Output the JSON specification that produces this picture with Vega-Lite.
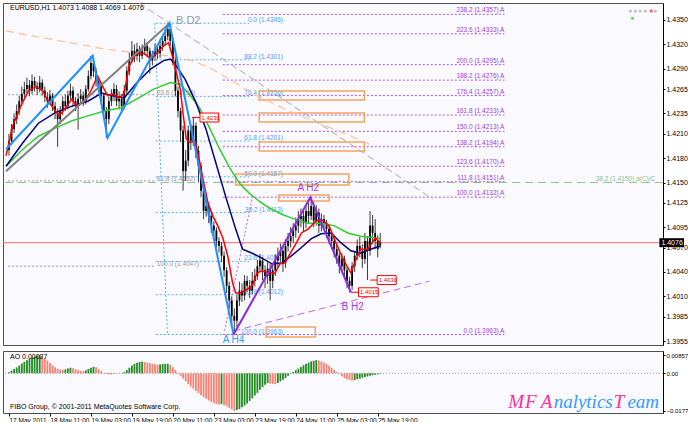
{
"$schema": "https://vega.github.io/schema/vega-lite/v6.json",
"background": "#FFFFFF",
"padding": {"left": 2, "top": 2, "right": 0, "bottom": 0},
"spacing": 4,
"config": {
  "view": {"fill": "#FAFAFE", "stroke": "#505050", "strokeWidth": 1},
  "font": "Liberation Sans",
  "text": {"font": "Liberation Sans"},
  "axis": {"labelOverlap": false, "grid": false, "labelFont": "Liberation Sans", "labelFontSize": 7, "labelColor": "#000000", "tickColor": "#000000", "domainColor": "#000000", "tickSize": 2, "labelPadding": 1, "labelBound": false, "labelFlush": false}
},
"datasets": {
"candles": [
{"i":0,"o":1.4190,"h":1.4210,"l":1.4183,"c":1.4201},
{"i":1,"o":1.4201,"h":1.4222,"l":1.4196,"c":1.4216},
{"i":2,"o":1.4216,"h":1.4235,"l":1.4211,"c":1.4228},
{"i":3,"o":1.4228,"h":1.4246,"l":1.4222,"c":1.4238},
{"i":4,"o":1.4238,"h":1.4257,"l":1.4233,"c":1.4250},
{"i":5,"o":1.4250,"h":1.4268,"l":1.4244,"c":1.4259},
{"i":6,"o":1.4259,"h":1.4274,"l":1.4253,"c":1.4265},
{"i":7,"o":1.4265,"h":1.4279,"l":1.4260,"c":1.4270},
{"i":8,"o":1.4270,"h":1.4276,"l":1.4256,"c":1.4263},
{"i":9,"o":1.4263,"h":1.4283,"l":1.4259,"c":1.4275},
{"i":10,"o":1.4275,"h":1.4280,"l":1.4262,"c":1.4269},
{"i":11,"o":1.4269,"h":1.4274,"l":1.4258,"c":1.4265},
{"i":12,"o":1.4265,"h":1.4281,"l":1.4261,"c":1.4273},
{"i":13,"o":1.4273,"h":1.4277,"l":1.4257,"c":1.4263},
{"i":14,"o":1.4263,"h":1.4268,"l":1.4249,"c":1.4255},
{"i":15,"o":1.4255,"h":1.4261,"l":1.4242,"c":1.4250},
{"i":16,"o":1.4250,"h":1.4264,"l":1.4246,"c":1.4257},
{"i":17,"o":1.4257,"h":1.4260,"l":1.4238,"c":1.4244},
{"i":18,"o":1.4244,"h":1.4249,"l":1.4228,"c":1.4236},
{"i":19,"o":1.4236,"h":1.4241,"l":1.4194,"c":1.4228},
{"i":20,"o":1.4228,"h":1.4244,"l":1.4222,"c":1.4238},
{"i":21,"o":1.4238,"h":1.4256,"l":1.4233,"c":1.4250},
{"i":22,"o":1.4250,"h":1.4258,"l":1.4238,"c":1.4244},
{"i":23,"o":1.4244,"h":1.4263,"l":1.4240,"c":1.4257},
{"i":24,"o":1.4257,"h":1.4272,"l":1.4252,"c":1.4263},
{"i":25,"o":1.4263,"h":1.4268,"l":1.4243,"c":1.4250},
{"i":26,"o":1.4250,"h":1.4255,"l":1.4238,"c":1.4245},
{"i":27,"o":1.4245,"h":1.4260,"l":1.4215,"c":1.4253},
{"i":28,"o":1.4253,"h":1.4265,"l":1.4248,"c":1.4257},
{"i":29,"o":1.4257,"h":1.4262,"l":1.4244,"c":1.4250},
{"i":30,"o":1.4250,"h":1.4270,"l":1.4246,"c":1.4265},
{"i":31,"o":1.4265,"h":1.4288,"l":1.4262,"c":1.4281},
{"i":32,"o":1.4281,"h":1.4306,"l":1.4277,"c":1.4297},
{"i":33,"o":1.4297,"h":1.4302,"l":1.4280,"c":1.4287},
{"i":34,"o":1.4287,"h":1.4291,"l":1.4268,"c":1.4275},
{"i":35,"o":1.4275,"h":1.4280,"l":1.4262,"c":1.4269},
{"i":36,"o":1.4269,"h":1.4273,"l":1.4250,"c":1.4257},
{"i":37,"o":1.4257,"h":1.4260,"l":1.4230,"c":1.4238},
{"i":38,"o":1.4238,"h":1.4243,"l":1.4205,"c":1.4228},
{"i":39,"o":1.4228,"h":1.4256,"l":1.4222,"c":1.4250},
{"i":40,"o":1.4250,"h":1.4265,"l":1.4244,"c":1.4257},
{"i":41,"o":1.4257,"h":1.4272,"l":1.4250,"c":1.4265},
{"i":42,"o":1.4265,"h":1.4270,"l":1.4244,"c":1.4250},
{"i":43,"o":1.4250,"h":1.4262,"l":1.4240,"c":1.4253},
{"i":44,"o":1.4253,"h":1.4258,"l":1.4236,"c":1.4244},
{"i":45,"o":1.4244,"h":1.4270,"l":1.4240,"c":1.4263},
{"i":46,"o":1.4263,"h":1.4293,"l":1.4258,"c":1.4287},
{"i":47,"o":1.4287,"h":1.4310,"l":1.4282,"c":1.4302},
{"i":48,"o":1.4302,"h":1.4324,"l":1.4298,"c":1.4312},
{"i":49,"o":1.4312,"h":1.4320,"l":1.4298,"c":1.4306},
{"i":50,"o":1.4306,"h":1.4322,"l":1.4300,"c":1.4314},
{"i":51,"o":1.4314,"h":1.4318,"l":1.4298,"c":1.4306},
{"i":52,"o":1.4306,"h":1.4320,"l":1.4302,"c":1.4312},
{"i":53,"o":1.4312,"h":1.4327,"l":1.4307,"c":1.4318},
{"i":54,"o":1.4318,"h":1.4323,"l":1.4305,"c":1.4312},
{"i":55,"o":1.4312,"h":1.4316,"l":1.4284,"c":1.4300},
{"i":56,"o":1.4300,"h":1.4312,"l":1.4294,"c":1.4306},
{"i":57,"o":1.4306,"h":1.4321,"l":1.4300,"c":1.4314},
{"i":58,"o":1.4314,"h":1.4320,"l":1.4302,"c":1.4309},
{"i":59,"o":1.4309,"h":1.4326,"l":1.4303,"c":1.4318},
{"i":60,"o":1.4318,"h":1.4332,"l":1.4312,"c":1.4324},
{"i":61,"o":1.4324,"h":1.4338,"l":1.4318,"c":1.4330},
{"i":62,"o":1.4330,"h":1.4346,"l":1.4325,"c":1.4339},
{"i":63,"o":1.4339,"h":1.4343,"l":1.4318,"c":1.4324},
{"i":64,"o":1.4324,"h":1.4328,"l":1.4294,"c":1.4300},
{"i":65,"o":1.4300,"h":1.4304,"l":1.4256,"c":1.4263},
{"i":66,"o":1.4263,"h":1.4268,"l":1.4230,"c":1.4238},
{"i":67,"o":1.4238,"h":1.4242,"l":1.4200,"c":1.4214},
{"i":68,"o":1.4214,"h":1.4220,"l":1.4140,"c":1.4164},
{"i":69,"o":1.4164,"h":1.4190,"l":1.4152,"c":1.4177},
{"i":70,"o":1.4177,"h":1.4220,"l":1.4170,"c":1.4214},
{"i":71,"o":1.4214,"h":1.4222,"l":1.4190,"c":1.4201},
{"i":72,"o":1.4201,"h":1.4230,"l":1.4195,"c":1.4220},
{"i":73,"o":1.4220,"h":1.4224,"l":1.4180,"c":1.4189},
{"i":74,"o":1.4189,"h":1.4195,"l":1.4150,"c":1.4170},
{"i":75,"o":1.4170,"h":1.4175,"l":1.4132,"c":1.4140},
{"i":76,"o":1.4140,"h":1.4145,"l":1.4105,"c":1.4115},
{"i":77,"o":1.4115,"h":1.4133,"l":1.4108,"c":1.4121},
{"i":78,"o":1.4121,"h":1.4126,"l":1.4100,"c":1.4109},
{"i":79,"o":1.4109,"h":1.4113,"l":1.4088,"c":1.4097},
{"i":80,"o":1.4097,"h":1.4102,"l":1.4082,"c":1.4091},
{"i":81,"o":1.4091,"h":1.4095,"l":1.4070,"c":1.4078},
{"i":82,"o":1.4078,"h":1.4083,"l":1.4064,"c":1.4072},
{"i":83,"o":1.4072,"h":1.4077,"l":1.4052,"c":1.4060},
{"i":84,"o":1.4060,"h":1.4065,"l":1.4034,"c":1.4042},
{"i":85,"o":1.4042,"h":1.4046,"l":1.4014,"c":1.4023},
{"i":86,"o":1.4023,"h":1.4028,"l":1.3995,"c":1.4005},
{"i":87,"o":1.4005,"h":1.4010,"l":1.3975,"c":1.3986},
{"i":88,"o":1.3986,"h":1.3995,"l":1.3963,"c":1.3980},
{"i":89,"o":1.3980,"h":1.4012,"l":1.3972,"c":1.4005},
{"i":90,"o":1.4005,"h":1.4028,"l":1.3998,"c":1.4017},
{"i":91,"o":1.4017,"h":1.4026,"l":1.4003,"c":1.4011},
{"i":92,"o":1.4011,"h":1.4036,"l":1.4005,"c":1.4029},
{"i":93,"o":1.4029,"h":1.4035,"l":1.4015,"c":1.4023},
{"i":94,"o":1.4023,"h":1.4030,"l":1.4008,"c":1.4017},
{"i":95,"o":1.4017,"h":1.4040,"l":1.4012,"c":1.4029},
{"i":96,"o":1.4029,"h":1.4044,"l":1.4022,"c":1.4035},
{"i":97,"o":1.4035,"h":1.4055,"l":1.4030,"c":1.4047},
{"i":98,"o":1.4047,"h":1.4062,"l":1.4040,"c":1.4054},
{"i":99,"o":1.4054,"h":1.4058,"l":1.4030,"c":1.4042},
{"i":100,"o":1.4042,"h":1.4048,"l":1.4020,"c":1.4035},
{"i":101,"o":1.4035,"h":1.4052,"l":1.4025,"c":1.4044},
{"i":102,"o":1.4044,"h":1.4050,"l":1.4005,"c":1.4029},
{"i":103,"o":1.4029,"h":1.4050,"l":1.4020,"c":1.4042},
{"i":104,"o":1.4042,"h":1.4062,"l":1.4035,"c":1.4054},
{"i":105,"o":1.4054,"h":1.4070,"l":1.4046,"c":1.4060},
{"i":106,"o":1.4060,"h":1.4075,"l":1.4052,"c":1.4066},
{"i":107,"o":1.4066,"h":1.4072,"l":1.4040,"c":1.4051},
{"i":108,"o":1.4051,"h":1.4080,"l":1.4045,"c":1.4072},
{"i":109,"o":1.4072,"h":1.4088,"l":1.4065,"c":1.4078},
{"i":110,"o":1.4078,"h":1.4095,"l":1.4070,"c":1.4084},
{"i":111,"o":1.4084,"h":1.4100,"l":1.4076,"c":1.4091},
{"i":112,"o":1.4091,"h":1.4107,"l":1.4082,"c":1.4097},
{"i":113,"o":1.4097,"h":1.4115,"l":1.4088,"c":1.4105},
{"i":114,"o":1.4105,"h":1.4118,"l":1.4095,"c":1.4109},
{"i":115,"o":1.4109,"h":1.4116,"l":1.4090,"c":1.4100},
{"i":116,"o":1.4100,"h":1.4122,"l":1.4094,"c":1.4115},
{"i":117,"o":1.4115,"h":1.4125,"l":1.4100,"c":1.4109},
{"i":118,"o":1.4109,"h":1.4132,"l":1.4104,"c":1.4121},
{"i":119,"o":1.4121,"h":1.4126,"l":1.4095,"c":1.4103},
{"i":120,"o":1.4103,"h":1.4122,"l":1.4097,"c":1.4113},
{"i":121,"o":1.4113,"h":1.4118,"l":1.4088,"c":1.4097},
{"i":122,"o":1.4097,"h":1.4112,"l":1.4090,"c":1.4105},
{"i":123,"o":1.4105,"h":1.4110,"l":1.4092,"c":1.4100},
{"i":124,"o":1.4100,"h":1.4104,"l":1.4082,"c":1.4093},
{"i":125,"o":1.4093,"h":1.4097,"l":1.4075,"c":1.4084},
{"i":126,"o":1.4084,"h":1.4090,"l":1.4068,"c":1.4078},
{"i":127,"o":1.4078,"h":1.4082,"l":1.4058,"c":1.4068},
{"i":128,"o":1.4068,"h":1.4073,"l":1.4050,"c":1.4060},
{"i":129,"o":1.4060,"h":1.4064,"l":1.4038,"c":1.4047},
{"i":130,"o":1.4047,"h":1.4063,"l":1.4040,"c":1.4056},
{"i":131,"o":1.4056,"h":1.4060,"l":1.4032,"c":1.4042},
{"i":132,"o":1.4042,"h":1.4046,"l":1.4020,"c":1.4029},
{"i":133,"o":1.4029,"h":1.4034,"l":1.4015,"c":1.4023},
{"i":134,"o":1.4023,"h":1.4052,"l":1.4018,"c":1.4047},
{"i":135,"o":1.4047,"h":1.4066,"l":1.4040,"c":1.4060},
{"i":136,"o":1.4060,"h":1.4080,"l":1.4055,"c":1.4072},
{"i":137,"o":1.4072,"h":1.4083,"l":1.4058,"c":1.4066},
{"i":138,"o":1.4066,"h":1.4074,"l":1.4045,"c":1.4056},
{"i":139,"o":1.4056,"h":1.4088,"l":1.4050,"c":1.4078},
{"i":140,"o":1.4078,"h":1.4084,"l":1.4030,"c":1.4066},
{"i":141,"o":1.4066,"h":1.4115,"l":1.4060,"c":1.4097},
{"i":142,"o":1.4097,"h":1.4110,"l":1.4075,"c":1.4088},
{"i":143,"o":1.4088,"h":1.4105,"l":1.4068,"c":1.4078},
{"i":144,"o":1.4078,"h":1.4085,"l":1.4058,"c":1.4068},
{"i":145,"o":1.4073,"h":1.4088,"l":1.4069,"c":1.4076}
],
"ma_r": [
{"i":-1.15,"p":1.4183},{"i":1.5,"p":1.4220},{"i":4.6,"p":1.4244},{"i":7.7,"p":1.4263},{"i":10.4,"p":1.4268},{"i":13.1,"p":1.4263},{"i":15.4,"p":1.4250},{"i":18.1,"p":1.4238},{"i":19.6,"p":1.4232},{"i":21.9,"p":1.4241},{"i":24.6,"p":1.4253},{"i":26.5,"p":1.4244},{"i":29.6,"p":1.4250},{"i":32.3,"p":1.4265},{"i":34.6,"p":1.4281},{"i":36.5,"p":1.4269},{"i":38.5,"p":1.4257},{"i":40.4,"p":1.4259},{"i":43.1,"p":1.4254},{"i":45,"p":1.4260},{"i":46.9,"p":1.4293},{"i":49.6,"p":1.4308},{"i":52.7,"p":1.4309},{"i":55.4,"p":1.4302},{"i":57.7,"p":1.4309},{"i":60.4,"p":1.4318},{"i":62.3,"p":1.4322},{"i":63.5,"p":1.4309},{"i":65,"p":1.4290},{"i":66.9,"p":1.4265},{"i":68.1,"p":1.4232},{"i":69.2,"p":1.4204},{"i":70.8,"p":1.4199},{"i":72.7,"p":1.4201},{"i":73.8,"p":1.4186},{"i":75.8,"p":1.4154},{"i":77.7,"p":1.4125},{"i":79.6,"p":1.4109},{"i":81.5,"p":1.4097},{"i":83.5,"p":1.4082},{"i":85.4,"p":1.4060},{"i":87.3,"p":1.4027},{"i":88.5,"p":1.4014},{"i":90.4,"p":1.4014},{"i":93.1,"p":1.4019},{"i":95,"p":1.4023},{"i":96.9,"p":1.4039},{"i":98.8,"p":1.4041},{"i":101.5,"p":1.4039},{"i":103.8,"p":1.4038},{"i":105.8,"p":1.4050},{"i":107.7,"p":1.4051},{"i":110.4,"p":1.4066},{"i":112.3,"p":1.4076},{"i":114.2,"p":1.4088},{"i":116.9,"p":1.4093},{"i":120,"p":1.4103},{"i":122.7,"p":1.4103},{"i":125,"p":1.4097},{"i":127.7,"p":1.4076},{"i":129.6,"p":1.4062},{"i":131.5,"p":1.4050},{"i":133.5,"p":1.4039},{"i":135.4,"p":1.4054},{"i":137.3,"p":1.4068},{"i":140,"p":1.4068},{"i":141.9,"p":1.4076},{"i":143.1,"p":1.4082},{"i":145,"p":1.4076}
],
"ma_n": [
{"i":-1.15,"p":1.4170},{"i":5.4,"p":1.4199},{"i":11.5,"p":1.4223},{"i":18.1,"p":1.4236},{"i":24.6,"p":1.4244},{"i":30.8,"p":1.4250},{"i":36.2,"p":1.4260},{"i":40,"p":1.4257},{"i":45,"p":1.4254},{"i":50,"p":1.4273},{"i":55.4,"p":1.4290},{"i":60.4,"p":1.4300},{"i":63.1,"p":1.4302},{"i":65.4,"p":1.4293},{"i":68.8,"p":1.4277},{"i":73.1,"p":1.4248},{"i":76.9,"p":1.4216},{"i":80.8,"p":1.4174},{"i":84.6,"p":1.4133},{"i":88.5,"p":1.4093},{"i":91.2,"p":1.4068},{"i":95,"p":1.4063},{"i":98.8,"p":1.4057},{"i":102.7,"p":1.4050},{"i":106.5,"p":1.4051},{"i":110.4,"p":1.4060},{"i":114.2,"p":1.4070},{"i":118.1,"p":1.4081},{"i":121.9,"p":1.4087},{"i":125.8,"p":1.4088},{"i":129.6,"p":1.4076},{"i":133.5,"p":1.4066},{"i":137.3,"p":1.4063},{"i":141.2,"p":1.4068},{"i":145,"p":1.4072}
],
"ma_g": [
{"i":-1.15,"p":1.4170},{"i":5.4,"p":1.4191},{"i":11.5,"p":1.4207},{"i":18.1,"p":1.4217},{"i":24.6,"p":1.4226},{"i":30.8,"p":1.4232},{"i":37.3,"p":1.4238},{"i":43.8,"p":1.4242},{"i":50,"p":1.4253},{"i":56.5,"p":1.4265},{"i":63.1,"p":1.4273},{"i":66.9,"p":1.4271},{"i":70.8,"p":1.4257},{"i":74.6,"p":1.4241},{"i":78.5,"p":1.4216},{"i":82.3,"p":1.4191},{"i":86.2,"p":1.4168},{"i":90,"p":1.4149},{"i":93.8,"p":1.4137},{"i":97.7,"p":1.4127},{"i":101.5,"p":1.4119},{"i":106.5,"p":1.4111},{"i":111.5,"p":1.4105},{"i":116.9,"p":1.4100},{"i":121.9,"p":1.4100},{"i":126.9,"p":1.4097},{"i":132.3,"p":1.4088},{"i":137.3,"p":1.4084},{"i":142.3,"p":1.4082},{"i":145,"p":1.4081}
],
"zz_b": [{"i":-1.15,"p":1.4191},{"i":32.7,"p":1.4306},{"i":38.5,"p":1.4205},{"i":62.7,"p":1.4346},{"i":87.7,"p":1.3963}],
"zz_g": [{"i":-1.15,"p":1.4164},{"i":62.7,"p":1.4346}],
"zz_p": [{"i":87.7,"p":1.3963},{"i":117.7,"p":1.4132},{"i":133.5,"p":1.4015}],
"peach": [
{"i":-1.15,"p":1.43365},{"i":11.5,"p":1.43291},{"i":24.6,"p":1.43217},{"i":37.3,"p":1.43143},{"i":50,"p":1.43094},{"i":63.1,"p":1.43057},{"i":71.9,"p":1.42996},{"i":78.5,"p":1.42909},{"i":87.3,"p":1.42749},{"i":96.2,"p":1.42577},{"i":107.7,"p":1.42405},{"i":120.8,"p":1.42233},{"i":133.5,"p":1.42073},{"i":142.3,"p":1.4195}
],
"gdash": [{"i":50.8,"p":1.43709},{"i":165.4,"p":1.41297}],
"pdash": [{"i":87.7,"p":1.39673},{"i":164.2,"p":1.40286}],
"pdot": [{"i":84.2,"p":1.39677},{"i":95,"p":1.4131}],
"bslope": [{"i":56.9,"p":1.4346},{"i":61.9,"p":1.3963}],
"gfib": [{"p":1.4258,"t":"23.6 (1.4258)"},{"p":1.4152,"t":"61.8 (1.4152)"},{"p":1.4047,"t":"100.0 (1.4047)"}],
"bfib": [
{"p":1.4346,"t":"0.0 (1.4346)"},{"p":1.4301,"t":"88.2 (1.4301)"},{"p":1.4256,"t":"76.4 (1.4256)"},{"p":1.4201,"t":"61.8 (1.4201)"},{"p":1.4157,"t":"50.0 (1.4157)"},{"p":1.4113,"t":"38.2 (1.4113)"},{"p":1.4053,"t":"23.6 (1.4053)"},{"p":1.4012,"t":"12.8 (1.4012)"},{"p":1.3963,"t":"100.0 (1.3963)"}
],
"pfib": [
{"p":1.4357,"t":"238.2 (1.4357) A"},{"p":1.4333,"t":"223.6 (1.4333) A"},{"p":1.4295,"t":"200.0 (1.4295) A"},{"p":1.4276,"t":"188.2 (1.4276) A"},{"p":1.4257,"t":"176.4 (1.4257) A"},{"p":1.4233,"t":"161.8 (1.4233) A"},{"p":1.4213,"t":"150.0 (1.4213) A"},{"p":1.4194,"t":"138.2 (1.4194) A"},{"p":1.4170,"t":"123.6 (1.4170) A"},{"p":1.4151,"t":"111.8 (1.4151) A"},{"p":1.4132,"t":"100.0 (1.4132) A"},{"p":1.3963,"t":"0.0 (1.3963) A"}
],
"rects": [
{"i":97.7,"i2":138.8,"p":1.42626,"p2":1.42516},
{"i":97.7,"i2":138.8,"p":1.42356,"p2":1.42245},
{"i":97.7,"i2":138.8,"p":1.41999,"p2":1.41888},
{"i":88.5,"i2":132.7,"p":1.41605,"p2":1.4147},
{"i":105.4,"i2":125.0,"p":1.41347,"p2":1.41273},
{"i":100.4,"i2":119.6,"p":1.39722,"p2":1.39599}
],
"redlab": [
{"c0":71.5,"i":74.6,"i2":81.9,"pa":1.42355,"pb":1.42245,"v":1.4230,"t":"1.4230"},
{"c0":133.5,"i":136.5,"i2":144.2,"pa":1.40205,"pb":1.40095,"v":1.4015,"t":"1.4015"},
{"c0":141.0,"i":143.8,"i2":151.2,"pa":1.40355,"pb":1.40245,"v":1.4030,"t":"1.4030"}
],
"waves": [
{"i":70,"p":1.4349,"t":"B D2","k":"bd"},
{"i":116.9,"p":1.41434,"t":"A H2","k":"pu"},
{"i":134.2,"p":1.3997,"t":"B H2","k":"pu"},
{"i":87.7,"p":1.39564,"t":"A H4","k":"bl"}
],
"header": [{"i":0.4,"p":1.4365,"t":"EURUSD,H1  1.4073 1.4088 1.4069 1.4076"}],
"dots": [
{"i":242.7,"p":1.4361,"k":"g"},{"i":244.6,"p":1.4361,"k":"g"},{"i":246.5,"p":1.4361,"k":"g"},{"i":248.5,"p":1.4361,"k":"g"},{"i":250.8,"p":1.4361,"k":"r"},{"i":252.4,"p":1.4361,"k":"g"},{"i":243.5,"p":1.4352,"k":"n"}
],
"pricebox": [{"i":254.0,"i2":263.6,"pa":1.40815,"pb":1.40705,"v":1.4076,"t":"1.4076"}],
"ao": [
{"i":0,"v":0.0005,"d":"up"},{"i":1,"v":0.0012,"d":"up"},{"i":2,"v":0.0020,"d":"up"},{"i":3,"v":0.0028,"d":"up"},{"i":4,"v":0.0036,"d":"up"},{"i":5,"v":0.0046,"d":"up"},{"i":6,"v":0.0054,"d":"up"},{"i":7,"v":0.0062,"d":"up"},{"i":8,"v":0.0068,"d":"up"},{"i":9,"v":0.0074,"d":"up"},
{"i":10,"v":0.0079,"d":"up"},{"i":11,"v":0.0083,"d":"up"},{"i":12,"v":0.00857,"d":"up"},{"i":13,"v":0.0082,"d":"dn"},{"i":14,"v":0.0070,"d":"dn"},{"i":15,"v":0.0060,"d":"dn"},{"i":16,"v":0.0048,"d":"dn"},{"i":17,"v":0.0038,"d":"dn"},{"i":18,"v":0.0028,"d":"dn"},{"i":19,"v":0.0022,"d":"dn"},
{"i":20,"v":0.0018,"d":"dn"},{"i":21,"v":0.0016,"d":"dn"},{"i":22,"v":0.0018,"d":"up"},{"i":23,"v":0.0023,"d":"up"},{"i":24,"v":0.0026,"d":"up"},{"i":25,"v":0.0024,"d":"dn"},{"i":26,"v":0.0019,"d":"dn"},{"i":27,"v":0.0015,"d":"dn"},{"i":28,"v":0.0011,"d":"dn"},{"i":29,"v":0.0010,"d":"dn"},
{"i":30,"v":0.0014,"d":"up"},{"i":31,"v":0.0020,"d":"up"},{"i":32,"v":0.0026,"d":"up"},{"i":33,"v":0.0031,"d":"up"},{"i":34,"v":0.0028,"d":"dn"},{"i":35,"v":0.0019,"d":"dn"},{"i":36,"v":0.0010,"d":"dn"},{"i":37,"v":-0.0002,"d":"dn"},{"i":38,"v":-0.0004,"d":"dn"},{"i":39,"v":-0.0005,"d":"dn"},
{"i":40,"v":-0.0004,"d":"up"},{"i":41,"v":-0.0002,"d":"up"},{"i":42,"v":0.0001,"d":"up"},{"i":43,"v":-0.0001,"d":"dn"},{"i":44,"v":0.0002,"d":"up"},{"i":45,"v":0.0005,"d":"up"},{"i":46,"v":0.0015,"d":"up"},{"i":47,"v":0.0026,"d":"up"},{"i":48,"v":0.0036,"d":"up"},{"i":49,"v":0.0044,"d":"up"},
{"i":50,"v":0.0050,"d":"up"},{"i":51,"v":0.0054,"d":"up"},{"i":52,"v":0.0055,"d":"up"},{"i":53,"v":0.0053,"d":"dn"},{"i":54,"v":0.0050,"d":"dn"},{"i":55,"v":0.0048,"d":"dn"},{"i":56,"v":0.0045,"d":"dn"},{"i":57,"v":0.0043,"d":"dn"},{"i":58,"v":0.0041,"d":"dn"},{"i":59,"v":0.0042,"d":"up"},
{"i":60,"v":0.0043,"d":"up"},{"i":61,"v":0.0044,"d":"up"},{"i":62,"v":0.0045,"d":"up"},{"i":63,"v":0.0040,"d":"dn"},{"i":64,"v":0.0028,"d":"dn"},{"i":65,"v":0.0016,"d":"dn"},{"i":66,"v":0.0002,"d":"dn"},{"i":67,"v":-0.0012,"d":"dn"},{"i":68,"v":-0.0025,"d":"dn"},{"i":69,"v":-0.0038,"d":"dn"},
{"i":70,"v":-0.0050,"d":"dn"},{"i":71,"v":-0.0062,"d":"dn"},{"i":72,"v":-0.0073,"d":"dn"},{"i":73,"v":-0.0083,"d":"dn"},{"i":74,"v":-0.0093,"d":"dn"},{"i":75,"v":-0.0103,"d":"dn"},{"i":76,"v":-0.0112,"d":"dn"},{"i":77,"v":-0.0120,"d":"dn"},{"i":78,"v":-0.0128,"d":"dn"},{"i":79,"v":-0.0134,"d":"dn"},
{"i":80,"v":-0.0140,"d":"dn"},{"i":81,"v":-0.0144,"d":"dn"},{"i":82,"v":-0.0147,"d":"dn"},{"i":83,"v":-0.0145,"d":"up"},{"i":84,"v":-0.0150,"d":"dn"},{"i":85,"v":-0.0156,"d":"dn"},{"i":86,"v":-0.0163,"d":"dn"},{"i":87,"v":-0.0170,"d":"dn"},{"i":88,"v":-0.01772,"d":"dn"},{"i":89,"v":-0.0173,"d":"up"},
{"i":90,"v":-0.0168,"d":"up"},{"i":91,"v":-0.0160,"d":"up"},{"i":92,"v":-0.0152,"d":"up"},{"i":93,"v":-0.0142,"d":"up"},{"i":94,"v":-0.0130,"d":"up"},{"i":95,"v":-0.0118,"d":"up"},{"i":96,"v":-0.0105,"d":"up"},{"i":97,"v":-0.0092,"d":"up"},{"i":98,"v":-0.0078,"d":"up"},{"i":99,"v":-0.0065,"d":"up"},
{"i":100,"v":-0.0054,"d":"up"},{"i":101,"v":-0.0046,"d":"up"},{"i":102,"v":-0.0048,"d":"dn"},{"i":103,"v":-0.0050,"d":"dn"},{"i":104,"v":-0.0051,"d":"dn"},{"i":105,"v":-0.0046,"d":"up"},{"i":106,"v":-0.0038,"d":"up"},{"i":107,"v":-0.0030,"d":"up"},{"i":108,"v":-0.0022,"d":"up"},{"i":109,"v":-0.0012,"d":"up"},
{"i":110,"v":-0.0002,"d":"up"},{"i":111,"v":0.0006,"d":"up"},{"i":112,"v":0.0014,"d":"up"},{"i":113,"v":0.0022,"d":"up"},{"i":114,"v":0.0030,"d":"up"},{"i":115,"v":0.0038,"d":"up"},{"i":116,"v":0.0044,"d":"up"},{"i":117,"v":0.0050,"d":"up"},{"i":118,"v":0.0056,"d":"up"},{"i":119,"v":0.0059,"d":"up"},
{"i":120,"v":0.0062,"d":"up"},{"i":121,"v":0.0060,"d":"dn"},{"i":122,"v":0.0056,"d":"dn"},{"i":123,"v":0.0051,"d":"dn"},{"i":124,"v":0.0044,"d":"dn"},{"i":125,"v":0.0036,"d":"dn"},{"i":126,"v":0.0026,"d":"dn"},{"i":127,"v":0.0016,"d":"dn"},{"i":128,"v":0.0006,"d":"dn"},{"i":129,"v":-0.0004,"d":"dn"},
{"i":130,"v":-0.0014,"d":"dn"},{"i":131,"v":-0.0022,"d":"dn"},{"i":132,"v":-0.0028,"d":"dn"},{"i":133,"v":-0.0032,"d":"dn"},{"i":134,"v":-0.0034,"d":"dn"},{"i":135,"v":-0.0032,"d":"up"},{"i":136,"v":-0.0028,"d":"up"},{"i":137,"v":-0.0025,"d":"up"},{"i":138,"v":-0.0021,"d":"up"},{"i":139,"v":-0.0018,"d":"up"},
{"i":140,"v":-0.0015,"d":"up"},{"i":141,"v":-0.0012,"d":"up"},{"i":142,"v":-0.0009,"d":"up"},{"i":143,"v":-0.0007,"d":"up"},{"i":144,"v":-0.0005,"d":"up"},{"i":145,"v":-0.0003,"d":"up"}
],
"aotext": [
{"i":0.4,"v":0.0077,"t":"AO 0.00027"},
{"i":0.4,"v":-0.0159,"t":"FIBO Group, © 2001-2011 MetaQuotes Software Corp."}
],
"mf": [
{"i":195,"v":-0.0163,"t":"M","k":"p"},
{"i":201.5,"v":-0.0163,"t":"F","k":"p"},
{"i":207.7,"v":-0.0163,"t":"A","k":"p"},
{"i":212.7,"v":-0.0163,"t":"nalytics","k":"b"},
{"i":236.2,"v":-0.0163,"t":"T","k":"p"},
{"i":241.5,"v":-0.0163,"t":"eam","k":"b"}
]
},
"vconcat": [
{
"width": 660,
"height": 342,
"layer": [
{"data":{"name":"ma_r"},"mark":{"type":"line","color":"#FF0000","strokeWidth":1.5,"clip":true,"opacity":0},
 "encoding":{"x":{"field":"i","type":"quantitative","scale":{"domain":[-0.385,253.46],"nice":false,"zero":false},"axis":null},
  "y":{"field":"p","type":"quantitative","scale":{"domain":[1.39501,1.43709],"nice":false,"zero":false},
   "axis":{"orient":"right","values":[1.435,1.432,1.429,1.4265,1.4235,1.421,1.418,1.415,1.4125,1.4095,1.407,1.404,1.401,1.3985,1.3955],"tickCount":40,"format":".4f","title":null,"grid":false,"tickSize":2,"labelFontSize":7,"labelPadding":1,"labelOverlap":false,"labelBound":false}}}},
{"data":{"values":[{"p":1.4076}]},"mark":{"type":"rule","color":"#FF6A6A","strokeWidth":1},
 "encoding":{"y":{"field":"p","type":"quantitative","scale":{"domain":[1.39501,1.43709],"nice":false,"zero":false}}}},
{"data":{"values":[{"p":1.4150}]},"mark":{"type":"rule","color":"#8FC88F","strokeWidth":1,"strokeDash":[8,5]},
 "encoding":{"y":{"field":"p","type":"quantitative","scale":{"domain":[1.39501,1.43709],"nice":false,"zero":false}}}},
{"data":{"values":[{"i":252.4,"p":1.4150,"t":"38.2 (1.4150) a(C)/C"}]},"mark":{"type":"text","align":"right","baseline":"middle","dy":-4,"fontSize":6.5,"color":"#8FC08F"},
 "encoding":{"x":{"field":"i","type":"quantitative","scale":{"domain":[-0.385,253.46],"nice":false,"zero":false},"axis":null},
  "y":{"field":"p","type":"quantitative","scale":{"domain":[1.39501,1.43709],"nice":false,"zero":false}},"text":{"field":"t"}}},
{"data":{"name":"gfib"},"mark":{"type":"rule","color":"#A0A0A0","strokeWidth":1,"strokeDash":[2,2]},
 "encoding":{"x":{"datum":-0.385,"type":"quantitative","scale":{"domain":[-0.385,253.46],"nice":false,"zero":false},"axis":null},"x2":{"datum":57.3},
  "y":{"field":"p","type":"quantitative","scale":{"domain":[1.39501,1.43709],"nice":false,"zero":false}}}},
{"data":{"name":"gfib"},"mark":{"type":"text","align":"left","baseline":"middle","dy":-2,"fontSize":6.5,"color":"#999999"},
 "encoding":{"x":{"datum":57.7,"type":"quantitative","scale":{"domain":[-0.385,253.46],"nice":false,"zero":false},"axis":null},
  "y":{"field":"p","type":"quantitative","scale":{"domain":[1.39501,1.43709],"nice":false,"zero":false}},"text":{"field":"t"}}},
{"data":{"name":"bfib"},"mark":{"type":"rule","color":"#5AAEFF","strokeWidth":1,"strokeDash":[2,2]},
 "encoding":{"x":{"datum":57.3,"type":"quantitative","scale":{"domain":[-0.385,253.46],"nice":false,"zero":false},"axis":null},"x2":{"datum":93.8},
  "y":{"field":"p","type":"quantitative","scale":{"domain":[1.39501,1.43709],"nice":false,"zero":false}}}},
{"data":{"name":"bfib"},"mark":{"type":"text","align":"right","baseline":"middle","dy":-3,"fontSize":6.5,"color":"#4DA3FF"},
 "encoding":{"x":{"datum":107,"type":"quantitative","scale":{"domain":[-0.385,253.46],"nice":false,"zero":false},"axis":null},
  "y":{"field":"p","type":"quantitative","scale":{"domain":[1.39501,1.43709],"nice":false,"zero":false}},"text":{"field":"t"}}},
{"data":{"name":"bslope"},"mark":{"type":"line","color":"#5AAEFF","strokeWidth":1,"strokeDash":[2,2],"clip":true},
 "encoding":{"x":{"field":"i","type":"quantitative","scale":{"domain":[-0.385,253.46],"nice":false,"zero":false},"axis":null},
  "y":{"field":"p","type":"quantitative","scale":{"domain":[1.39501,1.43709],"nice":false,"zero":false}}}},
{"data":{"name":"pfib"},"mark":{"type":"rule","color":"#B050E8","strokeWidth":1,"strokeDash":[2,2]},
 "encoding":{"x":{"datum":83.5,"type":"quantitative","scale":{"domain":[-0.385,253.46],"nice":false,"zero":false},"axis":null},"x2":{"datum":193.5},
  "y":{"field":"p","type":"quantitative","scale":{"domain":[1.39501,1.43709],"nice":false,"zero":false}}}},
{"data":{"name":"pfib"},"mark":{"type":"text","align":"right","baseline":"middle","dy":-4,"fontSize":6.5,"color":"#A040E0"},
 "encoding":{"x":{"datum":193.5,"type":"quantitative","scale":{"domain":[-0.385,253.46],"nice":false,"zero":false},"axis":null},
  "y":{"field":"p","type":"quantitative","scale":{"domain":[1.39501,1.43709],"nice":false,"zero":false}},"text":{"field":"t"}}},
{"data":{"name":"rects"},"mark":{"type":"rect","fill":"transparent","stroke":"#F4A460","strokeWidth":1.5},
 "encoding":{"x":{"field":"i","type":"quantitative","scale":{"domain":[-0.385,253.46],"nice":false,"zero":false},"axis":null},"x2":{"field":"i2"},
  "y":{"field":"p","type":"quantitative","scale":{"domain":[1.39501,1.43709],"nice":false,"zero":false}},"y2":{"field":"p2"}}},
{"data":{"name":"peach"},"mark":{"type":"line","color":"#FFBE96","strokeWidth":1.2,"strokeDash":[8,5],"clip":true},
 "encoding":{"x":{"field":"i","type":"quantitative","scale":{"domain":[-0.385,253.46],"nice":false,"zero":false},"axis":null},
  "y":{"field":"p","type":"quantitative","scale":{"domain":[1.39501,1.43709],"nice":false,"zero":false}}}},
{"data":{"name":"gdash"},"mark":{"type":"line","color":"#A8A8A8","strokeWidth":1,"strokeDash":[7,4],"clip":true},
 "encoding":{"x":{"field":"i","type":"quantitative","scale":{"domain":[-0.385,253.46],"nice":false,"zero":false},"axis":null},
  "y":{"field":"p","type":"quantitative","scale":{"domain":[1.39501,1.43709],"nice":false,"zero":false}}}},
{"data":{"name":"pdash"},"mark":{"type":"line","color":"#B86AE8","strokeWidth":1,"strokeDash":[7,4],"clip":true},
 "encoding":{"x":{"field":"i","type":"quantitative","scale":{"domain":[-0.385,253.46],"nice":false,"zero":false},"axis":null},
  "y":{"field":"p","type":"quantitative","scale":{"domain":[1.39501,1.43709],"nice":false,"zero":false}}}},
{"data":{"name":"pdot"},"mark":{"type":"line","color":"#B86AE8","strokeWidth":1,"strokeDash":[2,2],"clip":true},
 "encoding":{"x":{"field":"i","type":"quantitative","scale":{"domain":[-0.385,253.46],"nice":false,"zero":false},"axis":null},
  "y":{"field":"p","type":"quantitative","scale":{"domain":[1.39501,1.43709],"nice":false,"zero":false}}}},
{"data":{"name":"candles"},"mark":{"type":"rule","color":"#3C3C3C","strokeWidth":1,"clip":true},
 "encoding":{"x":{"field":"i","type":"quantitative","scale":{"domain":[-0.385,253.46],"nice":false,"zero":false},"axis":null},
  "y":{"field":"l","type":"quantitative","scale":{"domain":[1.39501,1.43709],"nice":false,"zero":false}},"y2":{"field":"h"}}},
{"data":{"name":"candles"},"mark":{"type":"bar","color":"#000000","size":1.8,"clip":true},
 "encoding":{"x":{"field":"i","type":"quantitative","scale":{"domain":[-0.385,253.46],"nice":false,"zero":false},"axis":null},
  "y":{"field":"o","type":"quantitative","scale":{"domain":[1.39501,1.43709],"nice":false,"zero":false}},"y2":{"field":"c"}}},
{"data":{"name":"ma_g"},"mark":{"type":"line","color":"#32CD32","strokeWidth":1.5,"clip":true},
 "encoding":{"x":{"field":"i","type":"quantitative","scale":{"domain":[-0.385,253.46],"nice":false,"zero":false},"axis":null},
  "y":{"field":"p","type":"quantitative","scale":{"domain":[1.39501,1.43709],"nice":false,"zero":false}}}},
{"data":{"name":"ma_n"},"mark":{"type":"line","color":"#000080","strokeWidth":1.5,"clip":true},
 "encoding":{"x":{"field":"i","type":"quantitative","scale":{"domain":[-0.385,253.46],"nice":false,"zero":false},"axis":null},
  "y":{"field":"p","type":"quantitative","scale":{"domain":[1.39501,1.43709],"nice":false,"zero":false}}}},
{"data":{"name":"ma_r"},"mark":{"type":"line","color":"#FF0000","strokeWidth":1.5,"clip":true},
 "encoding":{"x":{"field":"i","type":"quantitative","scale":{"domain":[-0.385,253.46],"nice":false,"zero":false},"axis":null},
  "y":{"field":"p","type":"quantitative","scale":{"domain":[1.39501,1.43709],"nice":false,"zero":false}}}},
{"data":{"name":"zz_g"},"mark":{"type":"line","color":"#808080","strokeWidth":2,"clip":true},
 "encoding":{"x":{"field":"i","type":"quantitative","scale":{"domain":[-0.385,253.46],"nice":false,"zero":false},"axis":null},
  "y":{"field":"p","type":"quantitative","scale":{"domain":[1.39501,1.43709],"nice":false,"zero":false}}}},
{"data":{"name":"zz_b"},"mark":{"type":"line","color":"#1E90FF","strokeWidth":2,"clip":true},
 "encoding":{"x":{"field":"i","type":"quantitative","scale":{"domain":[-0.385,253.46],"nice":false,"zero":false},"axis":null},
  "y":{"field":"p","type":"quantitative","scale":{"domain":[1.39501,1.43709],"nice":false,"zero":false}}}},
{"data":{"name":"zz_p"},"mark":{"type":"line","color":"#8A2BE2","strokeWidth":2,"clip":true},
 "encoding":{"x":{"field":"i","type":"quantitative","scale":{"domain":[-0.385,253.46],"nice":false,"zero":false},"axis":null},
  "y":{"field":"p","type":"quantitative","scale":{"domain":[1.39501,1.43709],"nice":false,"zero":false}}}},
{"data":{"name":"redlab"},"mark":{"type":"rule","color":"#FF0000","strokeWidth":1},
 "encoding":{"x":{"field":"c0","type":"quantitative","scale":{"domain":[-0.385,253.46],"nice":false,"zero":false},"axis":null},"x2":{"field":"i"},
  "y":{"field":"v","type":"quantitative","scale":{"domain":[1.39501,1.43709],"nice":false,"zero":false}}}},
{"data":{"name":"redlab"},"mark":{"type":"rect","fill":"#FFFFFF","stroke":"#FF0000","strokeWidth":1},
 "encoding":{"x":{"field":"i","type":"quantitative","scale":{"domain":[-0.385,253.46],"nice":false,"zero":false},"axis":null},"x2":{"field":"i2"},
  "y":{"field":"pa","type":"quantitative","scale":{"domain":[1.39501,1.43709],"nice":false,"zero":false}},"y2":{"field":"pb"}}},
{"data":{"name":"redlab"},"mark":{"type":"text","align":"left","baseline":"middle","dx":1.5,"fontSize":6,"color":"#FF0000"},
 "encoding":{"x":{"field":"i","type":"quantitative","scale":{"domain":[-0.385,253.46],"nice":false,"zero":false},"axis":null},
  "y":{"field":"v","type":"quantitative","scale":{"domain":[1.39501,1.43709],"nice":false,"zero":false}},"text":{"field":"t"}}},
{"data":{"name":"waves"},"transform":[{"filter":"datum.k=='bd'"}],"mark":{"type":"text","align":"center","baseline":"middle","fontSize":11,"color":"#8C9AAE"},
 "encoding":{"x":{"field":"i","type":"quantitative","scale":{"domain":[-0.385,253.46],"nice":false,"zero":false},"axis":null},
  "y":{"field":"p","type":"quantitative","scale":{"domain":[1.39501,1.43709],"nice":false,"zero":false}},"text":{"field":"t"}}},
{"data":{"name":"waves"},"transform":[{"filter":"datum.k=='pu'"}],"mark":{"type":"text","align":"center","baseline":"middle","fontSize":10,"color":"#A040E0"},
 "encoding":{"x":{"field":"i","type":"quantitative","scale":{"domain":[-0.385,253.46],"nice":false,"zero":false},"axis":null},
  "y":{"field":"p","type":"quantitative","scale":{"domain":[1.39501,1.43709],"nice":false,"zero":false}},"text":{"field":"t"}}},
{"data":{"name":"waves"},"transform":[{"filter":"datum.k=='bl'"}],"mark":{"type":"text","align":"center","baseline":"middle","fontSize":10,"color":"#3399FF"},
 "encoding":{"x":{"field":"i","type":"quantitative","scale":{"domain":[-0.385,253.46],"nice":false,"zero":false},"axis":null},
  "y":{"field":"p","type":"quantitative","scale":{"domain":[1.39501,1.43709],"nice":false,"zero":false}},"text":{"field":"t"}}},
{"data":{"name":"header"},"mark":{"type":"text","align":"left","baseline":"middle","fontSize":7,"color":"#000000"},
 "encoding":{"x":{"field":"i","type":"quantitative","scale":{"domain":[-0.385,253.46],"nice":false,"zero":false},"axis":null},
  "y":{"field":"p","type":"quantitative","scale":{"domain":[1.39501,1.43709],"nice":false,"zero":false}},"text":{"field":"t"}}},
{"data":{"name":"dots"},"transform":[{"filter":"datum.k=='g'"}],"mark":{"type":"point","filled":true,"size":10,"color":"#A8A8A8"},
 "encoding":{"x":{"field":"i","type":"quantitative","scale":{"domain":[-0.385,253.46],"nice":false,"zero":false},"axis":null},
  "y":{"field":"p","type":"quantitative","scale":{"domain":[1.39501,1.43709],"nice":false,"zero":false}}}},
{"data":{"name":"dots"},"transform":[{"filter":"datum.k=='r'"}],"mark":{"type":"point","filled":true,"size":12,"color":"#FF3030"},
 "encoding":{"x":{"field":"i","type":"quantitative","scale":{"domain":[-0.385,253.46],"nice":false,"zero":false},"axis":null},
  "y":{"field":"p","type":"quantitative","scale":{"domain":[1.39501,1.43709],"nice":false,"zero":false}}}},
{"data":{"name":"dots"},"transform":[{"filter":"datum.k=='n'"}],"mark":{"type":"point","filled":true,"size":10,"color":"#22CC22"},
 "encoding":{"x":{"field":"i","type":"quantitative","scale":{"domain":[-0.385,253.46],"nice":false,"zero":false},"axis":null},
  "y":{"field":"p","type":"quantitative","scale":{"domain":[1.39501,1.43709],"nice":false,"zero":false}}}},
{"data":{"name":"pricebox"},"mark":{"type":"rect","fill":"#000000","clip":false},
 "encoding":{"x":{"field":"i","type":"quantitative","scale":{"domain":[-0.385,253.46],"nice":false,"zero":false},"axis":null},"x2":{"field":"i2"},
  "y":{"field":"pa","type":"quantitative","scale":{"domain":[1.39501,1.43709],"nice":false,"zero":false}},"y2":{"field":"pb"}}},
{"data":{"name":"pricebox"},"mark":{"type":"text","align":"left","baseline":"middle","dx":2,"fontSize":7,"color":"#FFFFFF","clip":false},
 "encoding":{"x":{"field":"i","type":"quantitative","scale":{"domain":[-0.385,253.46],"nice":false,"zero":false},"axis":null},
  "y":{"field":"v","type":"quantitative","scale":{"domain":[1.39501,1.43709],"nice":false,"zero":false}},"text":{"field":"t"}}}
]
},
{
"width": 660,
"height": 62,
"layer": [
{"data":{"name":"ao"},"mark":{"type":"bar","size":1.8,"clip":true},
 "encoding":{
  "x":{"field":"i","type":"quantitative","scale":{"domain":[-0.385,253.46],"nice":false,"zero":false},
   "axis":{"values":[0,16,32,48,64,80,96,112,128,144],"tickCount":40,"labelExpr":"['17 May 2011','18 May 11:00','19 May 03:00','19 May 19:00','20 May 11:00','23 May 03:00','23 May 19:00','24 May 11:00','25 May 03:00','25 May 19:00'][round(datum.value/16)]","labelAlign":"left","labelFontSize":6.5,"tickSize":3,"domain":false,"grid":false,"title":null,"labelPadding":1,"labelOverlap":false,"labelBound":false,"labelFlush":false}},
  "y":{"field":"v","type":"quantitative","scale":{"domain":[-0.0187,0.0105],"nice":false,"zero":false},
   "axis":{"orient":"right","values":[0.00857,0,-0.01772],"tickCount":10,"labelExpr":"datum.value==0?'0.00':format(datum.value,'.5f')","title":null,"grid":false,"tickSize":2,"labelFontSize":6,"labelPadding":1,"labelOverlap":false,"labelBound":false}},
  "y2":{"datum":0},
  "color":{"field":"d","type":"nominal","scale":{"domain":["up","dn"],"range":["#228B22","#FA8072"]},"legend":null}}},
{"data":{"values":[{"v":0}]},"mark":{"type":"rule","color":"#A0A0A0","strokeWidth":1,"strokeDash":[1,2]},
 "encoding":{"y":{"field":"v","type":"quantitative","scale":{"domain":[-0.0187,0.0105],"nice":false,"zero":false}}}},
{"data":{"name":"aotext"},"mark":{"type":"text","align":"left","baseline":"middle","fontSize":7,"color":"#000000"},
 "encoding":{"x":{"field":"i","type":"quantitative","scale":{"domain":[-0.385,253.46],"nice":false,"zero":false}},
  "y":{"field":"v","type":"quantitative","scale":{"domain":[-0.0187,0.0105],"nice":false,"zero":false}},"text":{"field":"t"}}},
{"data":{"name":"mf"},"transform":[{"filter":"datum.k=='p'"}],"mark":{"type":"text","align":"left","baseline":"alphabetic","font":"Liberation Serif","fontStyle":"italic","fontSize":19,"color":"#FF2C9C"},
 "encoding":{"x":{"field":"i","type":"quantitative","scale":{"domain":[-0.385,253.46],"nice":false,"zero":false}},
  "y":{"field":"v","type":"quantitative","scale":{"domain":[-0.0187,0.0105],"nice":false,"zero":false}},"text":{"field":"t"}}},
{"data":{"name":"mf"},"transform":[{"filter":"datum.k=='b'"}],"mark":{"type":"text","align":"left","baseline":"alphabetic","font":"Liberation Serif","fontStyle":"italic","fontSize":19,"color":"#3399FF"},
 "encoding":{"x":{"field":"i","type":"quantitative","scale":{"domain":[-0.385,253.46],"nice":false,"zero":false}},
  "y":{"field":"v","type":"quantitative","scale":{"domain":[-0.0187,0.0105],"nice":false,"zero":false}},"text":{"field":"t"}}}
]
}
]
}
